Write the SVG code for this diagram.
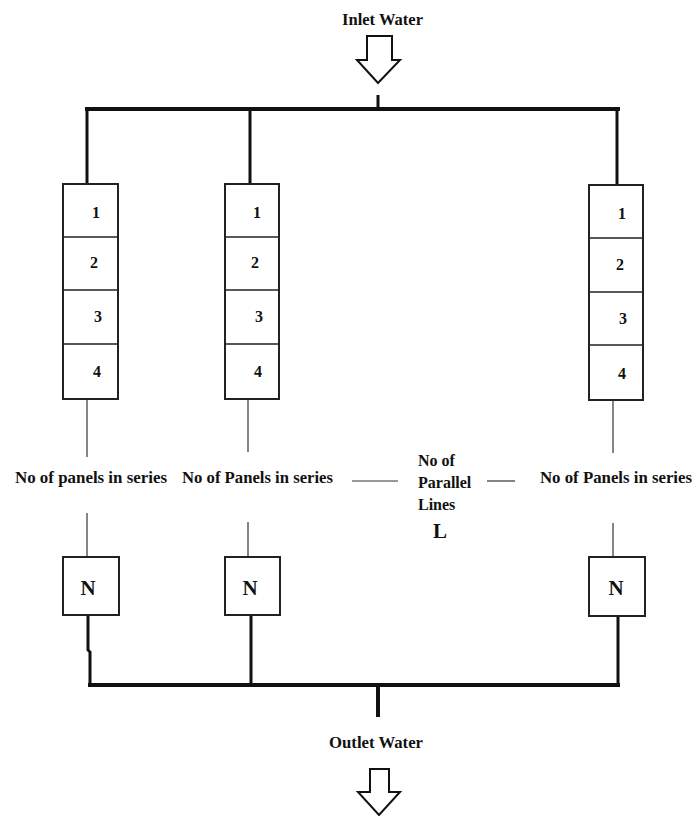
<svg xmlns="http://www.w3.org/2000/svg" width="694" height="816" viewBox="0 0 694 816">
<style>
text{font-family:"Liberation Serif","Times New Roman",serif;font-weight:bold;fill:#111}
.lbl{font-size:16px}
.num{font-size:16px;text-anchor:middle}
.big{font-size:21px;text-anchor:middle}
.box{fill:#fff;stroke:#222;stroke-width:2}
.div{stroke:#222;stroke-width:1.5}
.bus{stroke:#111;stroke-width:4;fill:none}
.pipe{stroke:#111;stroke-width:3;fill:none}
.thin{stroke:#333;stroke-width:1.2;fill:none}
.arrow{fill:#fff;stroke:#111;stroke-width:2;stroke-linejoin:miter}
</style>
<rect width="694" height="816" fill="#fff"/>
<g id="inlet">
<text class="lbl" x="342" y="25" textLength="81" lengthAdjust="spacingAndGlyphs">Inlet Water</text>
<polygon class="arrow" points="367,36 392,36 392,60 400,60 378,83 357,60 367,60"/>
</g>
<g id="outlet">
<text class="lbl" x="329" y="748" textLength="94" lengthAdjust="spacingAndGlyphs">Outlet Water</text>
<polygon class="arrow" points="370,769 389,769 389,792 400,792 379,815 358,792 370,792"/>
</g>
<g id="connectors">
<line class="pipe" x1="378" y1="95" x2="378" y2="109"/>
<line class="bus" x1="85" y1="109" x2="620" y2="109"/>
<line class="pipe" x1="87" y1="109" x2="87" y2="185"/>
<line class="pipe" x1="250" y1="109" x2="250" y2="185"/>
<line class="pipe" x1="617" y1="109" x2="617" y2="185"/>
<line class="thin" x1="87" y1="399" x2="87" y2="457"/>
<line class="thin" x1="87" y1="513" x2="87" y2="557"/>
<line class="thin" x1="248" y1="400" x2="248" y2="452"/>
<line class="thin" x1="248" y1="522" x2="248" y2="557"/>
<line class="thin" x1="613" y1="400" x2="613" y2="453"/>
<line class="thin" x1="613" y1="523" x2="613" y2="557"/>
<line class="thin" x1="352" y1="481" x2="398" y2="481"/>
<line class="thin" x1="487" y1="481" x2="515" y2="481"/>
<polyline class="pipe" points="88,616 88,650 90,652 90,685"/>
<line class="pipe" x1="251" y1="616" x2="251" y2="685"/>
<line class="pipe" x1="618" y1="616" x2="618" y2="685"/>
<line class="bus" x1="88" y1="685" x2="620" y2="685"/>
<line class="bus" x1="378" y1="685" x2="378" y2="717"/>
</g>
<g id="string1">
<rect class="box" x="63" y="184" width="55" height="215"/>
<line class="div" x1="63" y1="237" x2="118" y2="237"/>
<line class="div" x1="63" y1="290" x2="118" y2="290"/>
<line class="div" x1="63" y1="344" x2="118" y2="344"/>
<text class="num" x="96" y="218">1</text>
<text class="num" x="94" y="268">2</text>
<text class="num" x="98" y="322">3</text>
<text class="num" x="97" y="377">4</text>
</g>
<g id="string2">
<rect class="box" x="225" y="184" width="54" height="215"/>
<line class="div" x1="225" y1="237" x2="279" y2="237"/>
<line class="div" x1="225" y1="290" x2="279" y2="290"/>
<line class="div" x1="225" y1="344" x2="279" y2="344"/>
<text class="num" x="257" y="218">1</text>
<text class="num" x="255" y="268">2</text>
<text class="num" x="259" y="322">3</text>
<text class="num" x="258" y="377">4</text>
</g>
<g id="string3">
<rect class="box" x="589" y="185" width="54" height="215"/>
<line class="div" x1="589" y1="238" x2="643" y2="238"/>
<line class="div" x1="589" y1="292" x2="643" y2="292"/>
<line class="div" x1="589" y1="345" x2="643" y2="345"/>
<text class="num" x="622" y="219">1</text>
<text class="num" x="620" y="270">2</text>
<text class="num" x="623" y="324">3</text>
<text class="num" x="622" y="379">4</text>
</g>
<g id="labels">
<text class="lbl" x="15" y="483" textLength="152" lengthAdjust="spacingAndGlyphs">No of panels in series</text>
<text class="lbl" x="182" y="483" textLength="151" lengthAdjust="spacingAndGlyphs">No of Panels in series</text>
<text class="lbl" x="540" y="483" textLength="152" lengthAdjust="spacingAndGlyphs">No of Panels in series</text>
<text class="lbl" x="418" y="466">No of</text>
<text class="lbl" x="418" y="488">Parallel</text>
<text class="lbl" x="418" y="510">Lines</text>
<text class="big" x="440" y="538">L</text>
</g>
<g id="n1">
<rect class="box" x="63" y="557" width="56" height="58"/>
<text class="big" x="88" y="595">N</text>
</g>
<g id="n2">
<rect class="box" x="225" y="557" width="55" height="58"/>
<text class="big" x="250" y="595">N</text>
</g>
<g id="n3">
<rect class="box" x="589" y="557" width="56" height="59"/>
<text class="big" x="616" y="595">N</text>
</g>
</svg>
